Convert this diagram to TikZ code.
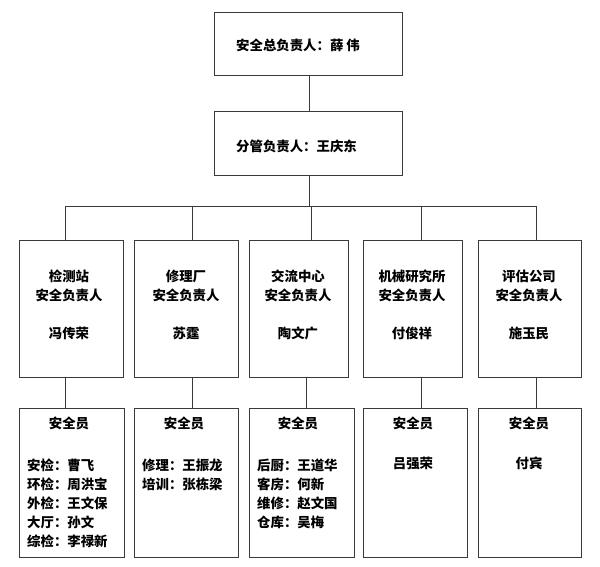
\documentclass[tikz,border=0pt]{standalone}
\usepackage{fontspec}
\setmainfont{Noto Sans CJK SC}
\definecolor{linec}{HTML}{3A3A3A}
\begin{document}
\begin{tikzpicture}[x=1pt,y=-1pt,
  box/.style={draw=linec, line width=1pt, inner sep=0pt, anchor=north west},
  txt/.style={font=\bfseries\fontsize{13.4}{19}\selectfont, inner sep=0pt, text=black},
  conn/.style={draw=linec, line width=1pt}]
\useasboundingbox (0,0) rectangle (600,566);
\fill[white] (0,0) rectangle (600,566);
% boxes
\node[box, minimum width=188pt, minimum height=63pt] (top) at (214,12) {};
\node[box, minimum width=188pt, minimum height=64pt] (sec) at (214,111) {};
\node[box, minimum width=104pt, minimum height=137pt] (m1) at (19,240) {};
\node[box, minimum width=104pt, minimum height=137pt] (m2) at (134,240) {};
\node[box, minimum width=99pt, minimum height=137pt] (m3) at (249,240) {};
\node[box, minimum width=99pt, minimum height=137pt] (m4) at (363,240) {};
\node[box, minimum width=103pt, minimum height=137pt] (m5) at (478,240) {};
\node[box, minimum width=105pt, minimum height=149pt] (s1) at (19,408) {};
\node[box, minimum width=104pt, minimum height=149pt] (s2) at (134,408) {};
\node[box, minimum width=105pt, minimum height=149pt] (s3) at (249,408) {};
\node[box, minimum width=104pt, minimum height=149pt] (s4) at (363,408) {};
\node[box, minimum width=103pt, minimum height=149pt] (s5) at (478,408) {};
% texts
\node[txt, anchor=west] (ttop) at (236,45) {安全总负责人：薛\ 伟};
\node[txt, anchor=west] (tsec) at (236,146) {分管负责人：王庆东};
\node[txt, align=center] (tm1) at (69,305) {检测站\\安全负责人\\[19pt]冯传荣};
\node[txt, align=center] (tm2) at (186,305) {修理厂\\安全负责人\\[19pt]苏霆};
\node[txt, align=center] (tm3) at (298,305) {交流中心\\安全负责人\\[19pt]陶文广};
\node[txt, align=center] (tm4) at (412,305) {机械研究所\\安全负责人\\[19pt]付俊祥};
\node[txt, align=center] (tm5) at (529,305) {评估公司\\安全负责人\\[19pt]施玉民};
\node[txt] (h1) at (69,423) {安全员};
\node[txt] (h2) at (184,423) {安全员};
\node[txt] (h3) at (298,423) {安全员};
\node[txt] (h4) at (413,423) {安全员};
\node[txt] (h5) at (529,423) {安全员};
\node[txt, align=left, anchor=north west] (l1) at (27,459) {安检：曹飞\\环检：周洪宝\\外检：王文保\\大厅：孙文\\综检：李禄新};
\node[txt, align=left, anchor=north west] (l2) at (142,459) {修理：王振龙\\培训：张栋梁};
\node[txt, align=left, anchor=north west] (l3) at (257,459) {后厨：王道华\\客房：何新\\维修：赵文国\\仓库：吴梅};
\node[txt] (l4) at (413,463) {吕强荣};
\node[txt] (l5) at (529,463) {付宾};
% connectors
\coordinate (c1) at (65,206);
\coordinate (c2) at (192,206);
\coordinate (c3) at (311,206);
\coordinate (c4) at (421,206);
\coordinate (c5) at (536,206);
\coordinate (d3) at (306,400);
\draw[conn] (top.south -| 309,0) -- (sec.north -| 309,0);
\draw[conn] (sec.south -| 309,0) -- (c1 -| 309,0);
\draw[conn] (c1) -- (c5);
\draw[conn] (c1) -- (c1 |- m1.north);
\draw[conn] (c2) -- (c2 |- m2.north);
\draw[conn] (c3) -- (c3 |- m3.north);
\draw[conn] (c4) -- (c4 |- m4.north);
\draw[conn] (c5) -- (c5 |- m5.north);
\draw[conn] (m1.south -| c1) -- (s1.north -| c1);
\draw[conn] (m2.south -| c2) -- (s2.north -| c2);
\draw[conn] (m3.south -| d3) -- (s3.north -| d3);
\draw[conn] (m4.south -| c4) -- (s4.north -| c4);
\draw[conn] (m5.south -| c5) -- (s5.north -| c5);
\end{tikzpicture}
\end{document}
